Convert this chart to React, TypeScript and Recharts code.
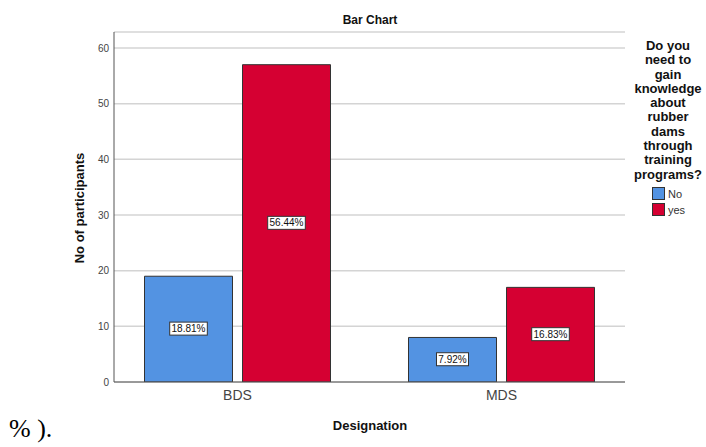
import { BarChart, Bar, XAxis, YAxis, CartesianGrid, LabelList } from 'recharts';

const categories = ['BDS', 'MDS'];
const noCounts = [19, 8];
const yesCounts = [57, 17];
const noPct = ['18.81%', '7.92%'];
const yesPct = ['56.44%', '16.83%'];
const yTicks = [0, 10, 20, 30, 40, 50, 60];
const legendTitle = ['Do you', 'need to', 'gain', 'knowledge', 'about', 'rubber', 'dams', 'through', 'training', 'programs?'];

const BLUE = '#5393e2';
const RED = '#d50032';
const FONT = '"Liberation Sans", Arial, sans-serif';

const data = categories.map((c, i) => ({
  name: c,
  no: noCounts[i],
  yes: yesCounts[i],
  noPct: noPct[i],
  yesPct: yesPct[i],
}));

function PctLabel(props: any) {
  const { x, y, width, height, value } = props;
  const cx = x + width / 2;
  const cy = y + height / 2;
  const w = String(value).length * 5.6 + 4;
  return (
    <g>
      <rect x={cx - w / 2} y={cy - 7} width={w} height={13} fill="#fff" stroke="#333" strokeWidth={1} />
      <text x={cx} y={cy + 3} textAnchor="middle" fontSize={10} fontFamily={FONT} fill="#111">
        {value}
      </text>
    </g>
  );
}

export default function App() {
  return (
    <div style={{ position: 'absolute', left: 0, top: 0, width: 706, height: 447, background: '#fff', fontFamily: FONT }}>
      <BarChart
        width={706}
        height={447}
        data={data}
        margin={{ top: 32, right: 81, bottom: 35, left: 54 }}
        barSize={88}
        barGap={10}
      >
        <CartesianGrid vertical={false} stroke="#d4d4d4" strokeWidth={1.5} />
        <XAxis
          dataKey="name"
          height={30}
          padding={{ left: -8.5, right: -8.5 }}
          tickLine={false}
          tickSize={0}
          axisLine={{ stroke: '#555' }}
          tick={{ fontSize: 14, fill: '#444', fontFamily: FONT }}
          tickMargin={8}
        />
        <YAxis
          width={60}
          domain={[0, 62.87]}
          ticks={yTicks}
          tickLine={false}
          tickSize={0}
          axisLine={{ stroke: '#555' }}
          tick={{ fontSize: 10, fill: '#444', fontFamily: FONT }}
          tickMargin={5}
          allowDataOverflow
        />
        <Bar dataKey="no" fill={BLUE} stroke="#333" strokeWidth={1} isAnimationActive={false}>
          <LabelList dataKey="noPct" content={<PctLabel />} />
        </Bar>
        <Bar dataKey="yes" fill={RED} stroke="#333" strokeWidth={1} isAnimationActive={false}>
          <LabelList dataKey="yesPct" content={<PctLabel />} />
        </Bar>
        <text x={370} y={24} textAnchor="middle" fontSize={12} fontWeight="bold" fontFamily={FONT} fill="#111">
          Bar Chart
        </text>
        <text
          x={84}
          y={208}
          textAnchor="middle"
          fontSize={13}
          fontWeight="bold"
          fontFamily={FONT}
          fill="#111"
          transform="rotate(-90 84 208)"
        >
          No of participants
        </text>
        <text x={370} y={430} textAnchor="middle" fontSize={13} fontWeight="bold" fontFamily={FONT} fill="#111">
          Designation
        </text>
      </BarChart>
      <div style={{ position: 'absolute', left: 628, top: 39, width: 80, textAlign: 'center', fontSize: 13, fontWeight: 'bold', lineHeight: '14.3px', color: '#111' }}>
        {legendTitle.map((l) => (
          <div key={l}>{l}</div>
        ))}
      </div>
      {[
        { label: 'No', color: BLUE, top: 187 },
        { label: 'yes', color: RED, top: 203 },
      ].map((it) => (
        <div key={it.label} style={{ position: 'absolute', left: 652, top: it.top, display: 'flex', alignItems: 'center', fontSize: 11, color: '#333' }}>
          <span style={{ display: 'inline-block', width: 11, height: 11, background: it.color, border: '1px solid #333', marginRight: 3 }} />
          {it.label}
        </div>
      ))}
      <div style={{ position: 'absolute', left: 9, top: 414, fontFamily: '"Liberation Serif", "Times New Roman", serif', fontSize: 26, color: '#000' }}>
        % ).
      </div>
    </div>
  );
}
